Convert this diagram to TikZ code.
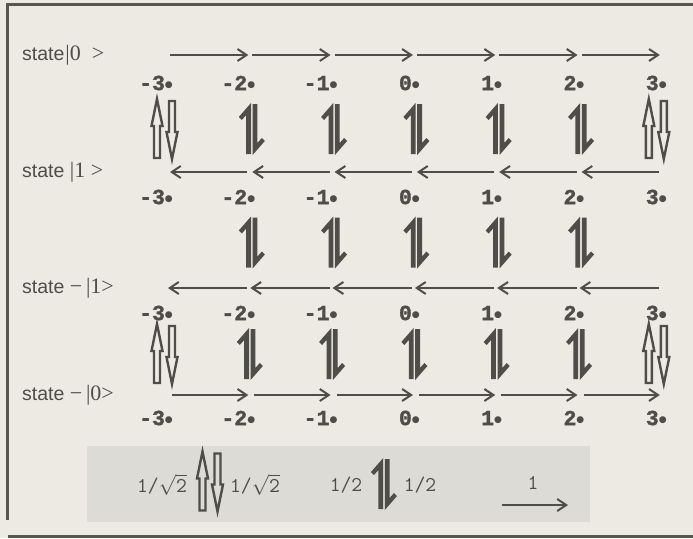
\documentclass[tikz,border=0pt]{standalone}
\usepackage{fontspec}
\setmainfont{Liberation Serif}
\newfontfamily\sansf{Liberation Sans}
\newfontfamily\dejaf{DejaVu Sans}
\newfontfamily\numf{Liberation Mono Bold}[FakeBold=1.6]
\usetikzlibrary{arrows.meta}
\definecolor{bgc}{HTML}{ECEAE3}
\definecolor{legc}{HTML}{DCDBD5}
\definecolor{inkc}{HTML}{4E4D4A}
\definecolor{framec}{HTML}{57564F}
\newcommand\bdot{\raisebox{0.12em}{\dejaf\fontsize{9}{9}\selectfont ●}}
\newcommand\sst{{\sansf\fontsize{19.5}{22}\selectfont state}}
\begin{document}
\begin{tikzpicture}[x=1pt,y=-1pt,
  hz/.style={draw=inkc,line width=2pt,-{Straight Barb[length=9pt,width=12pt]}},
  lbl/.style={text=inkc,inner sep=0pt,anchor=east,font=\numf\fontsize{21.5}{22}\selectfont},
  st/.style={text=inkc,inner sep=0pt,anchor=west,font=\fontsize{22}{24}\selectfont},
  leg/.style={text=inkc,inner sep=0pt,font=\ttfamily\fontsize{21}{24}\selectfont},
  harp/.pic={
    \fill[inkc] (-0.8,-26) -- (-0.8,25) -- (-5.6,25) -- (-5.6,-14) -- (-10,-9) -- (-13,-12) -- cycle;
    \fill[inkc] (0.8,26) -- (0.8,-25) -- (5.6,-25) -- (5.6,14) -- (10,9) -- (13,12) -- cycle;
  },
  hollow/.pic={
    \draw[inkc,line width=2.4pt,line join=miter]
      (-7.5,-30) -- (-2,-3) -- (-4.5,-3) -- (-4.5,29) -- (-10.5,29) -- (-10.5,-3) -- (-13,-3) -- cycle;
    \draw[inkc,line width=2.4pt,line join=miter]
      (7.5,30) -- (13,3) -- (10.5,3) -- (10.5,-28) -- (4.5,-28) -- (4.5,3) -- (2,3) -- cycle;
  }
]
\fill[bgc] (0,0) rectangle (693,538);
\useasboundingbox (0,0) rectangle (693,538);
% frame
\draw[framec,line width=3pt] (7.5,520) -- (7.5,4.5) -- (693,4.5);
\draw[framec,line width=3pt] (8,536.5) -- (693,536.5);
% legend box
\fill[legc] (87,446) rectangle (590,522);

% state labels
\node[st] (s0) at (22,55) {\sst\kern1pt|0\ \ >};
\node[st] (s1) at (22,172) {\sst\ |1\ >};
\node[st] (s2) at (22,288) {\sst\ −\,|1>};
\node[st] (s3) at (22,395) {\sst\ −\,|0>};

% dots, labels
\foreach \r/\ya/\yl in {0/55/83,1/172/197,2/288/313,3/395/418} {
  \foreach \k [evaluate=\k as \d using 169+82.3*\k] in {0,...,6} {
    \coordinate (a\r\k) at (\d,\ya);
    \node[lbl] (n\r\k) at (\d+4,\yl) {\the\numexpr\k-3\relax\bdot};
  }
}
% row helper coordinates
\coordinate (h0) at (0,129);
\coordinate (h1) at (0,242.5);
\coordinate (h2) at (0,354);

% horizontal arrows
\foreach \k [evaluate=\k as \j using int(\k+1)] in {0,...,5} {
  \draw[hz] ([xshift=1pt]a0\k) -- ([xshift=-3pt]a0\j);
  \draw[hz] ([xshift=-4pt]a1\j) -- ([xshift=1pt]a1\k);
  \draw[hz] ([xshift=-4pt]a2\j) -- ([xshift=-1pt]a2\k);
  \draw[hz] ([xshift=3pt]a3\k) -- ([xshift=-3pt]a3\j);
}

% harpoons
\foreach \k in {1,...,5} {
  \path ([xshift=0.5pt]a0\k |- h0) pic {harp};
  \path ([xshift=0.5pt]a0\k |- h1) pic {harp};
  \path ([xshift=-1.5pt]a0\k |- h2) pic {harp};
}
% hollow arrows
\path ([xshift=-4.5pt]a00 |- h0) pic {hollow};
\path ([xshift=-6.5pt]a06 |- h0) pic {hollow};
\path ([xshift=-4.5pt]a00 |- h2) pic {hollow};
\path ([xshift=-6.5pt]a06 |- h2) pic {hollow};

% legend
\node[leg] (l1) at (162,485) {1/$\sqrt{\hbox{2}}$};
\path (210,481.5) pic {hollow};
\node[leg] (l2) at (255,485) {1/$\sqrt{\hbox{2}}$};
\node[leg] (l3) at (346,485) {1/2};
\path (384,484) pic {harp};
\node[leg] (l4) at (420,485) {1/2};
\node[leg] (l5) at (533,483) {1};
\coordinate (g1) at (502,505);
\coordinate (g2) at (568,505);
\draw[hz] (g1) -- (g2);
\end{tikzpicture}
\end{document}
